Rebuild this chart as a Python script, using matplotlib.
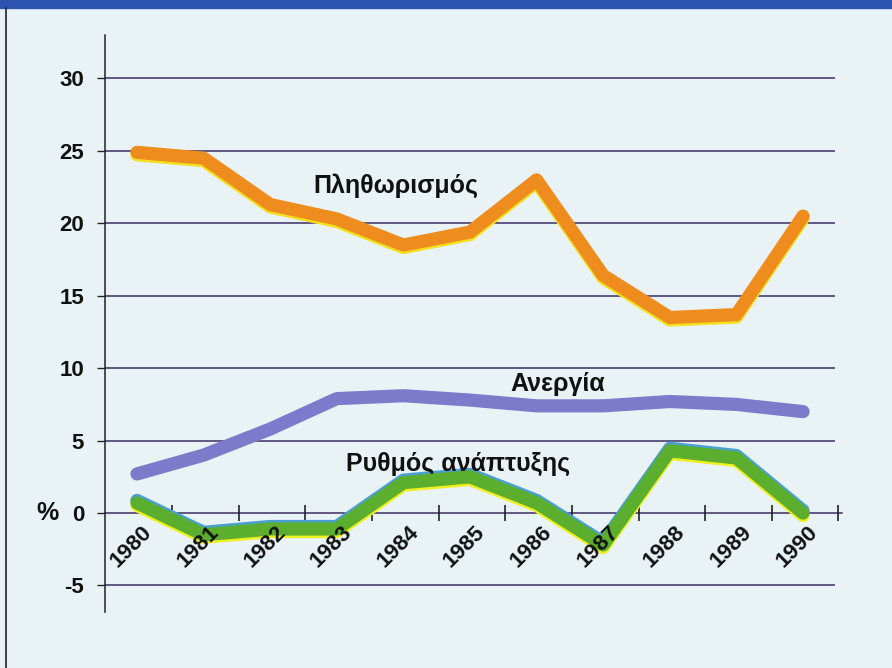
import matplotlib
matplotlib.use("Agg")
from matplotlib import pyplot as plt
from matplotlib import transforms
from matplotlib import font_manager

# data
years = ["1980", "1981", "1982", "1983", "1984", "1985",
         "1986", "1987", "1988", "1989", "1990"]
inflation = [24.9, 24.5, 21.3, 20.3, 18.5, 19.4, 23.0, 16.4, 13.5, 13.7, 20.5]
unemployment = [2.7, 4.0, 5.8, 7.9, 8.1, 7.8, 7.4, 7.4, 7.7, 7.5, 7.0]
growth = [0.7, -1.5, -1.1, -1.1, 2.1, 2.5, 0.7, -2.2, 4.3, 3.8, 0.0]
yticks = [-5, 0, 5, 10, 15, 20, 25, 30]

bg = "#e9f3f5"
grid = "#3b2d63"
fnt = "Liberation Sans"
names = {f.name for f in font_manager.fontManager.ttflist}
narrow = "Liberation Sans Narrow" if "Liberation Sans Narrow" in names else fnt

fig = plt.figure(figsize=(8.92, 6.68), dpi=100, facecolor=bg)
# top blue band and left frame line
fig.patches.append(plt.Rectangle((0, 1 - 8/668), 1, 8/668, transform=fig.transFigure,
                                 color="#2b54b0", zorder=0))
fig.lines.append(plt.Line2D([6/892, 6/892], [0, 1 - 8/668], transform=fig.transFigure,
                            color="#222222", lw=1.2))

ax = fig.add_axes([105/892, 56/668, 730/892, 577/668])
ax.set_facecolor(bg)
ax.set_xlim(-0.48, 10.48)
ax.set_ylim(-6.83, 33.0)

for s in ["top", "right", "bottom"]:
    ax.spines[s].set_visible(False)
ax.spines["left"].set_color("#222222")
ax.spines["left"].set_linewidth(1.1)

ax.set_yticks(yticks)
ax.set_yticklabels([str(v) for v in yticks], fontfamily=narrow, fontweight="bold",
                   fontsize=16, color="#111111")
ax.tick_params(axis="y", length=6, width=1, color="#222222", pad=9)
ax.set_xticks([])

for v in yticks:
    if v == 0:
        continue
    ax.axhline(v, color=grid, lw=1.1, zorder=1)
ax.plot([-0.48, 10.58], [0, 0], color=grid, lw=1.1, zorder=1, clip_on=False)
x = list(range(len(years)))
ax.plot([i + 0.53 for i in x], [0] * len(x), ls="none", marker="|", ms=11,
        mew=1.2, color="#222222", zorder=2, clip_on=False)

def shifted(dy):
    return transforms.offset_copy(ax.transData, fig=fig, x=0, y=dy, units="dots")

lw = 9.5
# inflation: orange with a yellow edge below
ax.plot(x, inflation, color="#f4e020", lw=lw, transform=shifted(-2.5),
        solid_capstyle="round", solid_joinstyle="round", zorder=3)
ax.plot(x, inflation, color="#ef8c1e", lw=lw, solid_capstyle="round",
        solid_joinstyle="round", zorder=4)
# unemployment
ax.plot(x, unemployment, color="#7c7acb", lw=lw, solid_capstyle="round",
        solid_joinstyle="round", zorder=4)
# growth: green with blue edge above and yellow edge below
ax.plot(x, growth, color="#4aa0d0", lw=lw, transform=shifted(2.5),
        solid_capstyle="round", solid_joinstyle="round", zorder=3)
ax.plot(x, growth, color="#eef020", lw=lw, transform=shifted(-2.5),
        solid_capstyle="round", solid_joinstyle="round", zorder=3)
ax.plot(x, growth, color="#5bae2e", lw=lw, solid_capstyle="round",
        solid_joinstyle="round", zorder=4)

for i, lab in enumerate(years):
    ax.text(i - 0.08, -2.3, lab, rotation=45, ha="center", va="center",
            rotation_mode="anchor", fontfamily=fnt, fontweight="bold",
            fontsize=16, color="#111111", zorder=5)

ax.text(-1.34, 0, "%", ha="center", va="center", fontfamily=fnt,
        fontweight="bold", fontsize=18, color="#111111", clip_on=False)

ax.text(3.89, 22.6, "Πληθωρισμός", ha="center", va="center", fontfamily=fnt,
        fontweight="bold", fontsize=18, color="#111111")
ax.text(6.31, 8.9, "Ανεργία", ha="center", va="center", fontfamily=fnt,
        fontweight="bold", fontsize=18, color="#111111")
ax.text(4.82, 3.4, "Ρυθμός ανάπτυξης", ha="center", va="center", fontfamily=fnt,
        fontweight="bold", fontsize=18, color="#111111")

fig.savefig("out.png", dpi=100, facecolor=bg)
